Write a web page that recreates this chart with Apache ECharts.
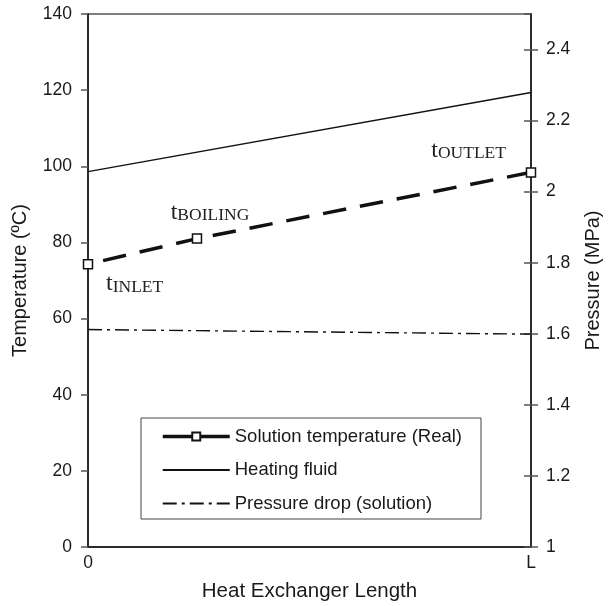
<!DOCTYPE html>
<html>
<head>
<meta charset="utf-8">
<script src="https://cdn.jsdelivr.net/npm/echarts@6/dist/echarts.min.js"></script>
<style>
  html, body { margin: 0; padding: 0; background: #fff; }
  #chart { width: 608px; height: 606px; }
</style>
</head>
<body>
<div id="chart"></div>
<script>
// Position along the exchanger, as a fraction of its length L
const solutionPos = [0, 0.246, 1];
const solutionTemp = [74.3, 81.0, 98.4];       // °C
const solutionTags = ['INLET', 'BOILING', 'OUTLET'];

const heatingPos = [0, 1];
const heatingTemp = [98.6, 119.4];             // °C

const pressurePos = [0, 1];
const pressureMPa = [1.612, 1.599];            // MPa

const xTickLabels = { 0: '0', 1: 'L' };

const seriesNames = ['Solution temperature (Real)', 'Heating fluid', 'Pressure drop (solution)'];

const pair = (xs, ys) => xs.map((x, i) => [x, ys[i]]);

const FONT = 'Liberation Sans, Arial, sans-serif';
const SERIF = 'Liberation Serif, Times New Roman, serif';
const AXIS_COLOR = '#2b2b2b';

// Label placement for the three marked solution points
const tagPlacement = [
  { align: 'left',   offset: [18, 19] },
  { align: 'center', offset: [13, -27] },
  { align: 'right',  offset: [-25, -23] }
];

const chart = echarts.init(document.getElementById('chart'));

chart.setOption({
  animation: false,
  backgroundColor: '#fff',
  textStyle: { fontFamily: FONT },
  grid: {
    left: 88, right: 77, top: 14, bottom: 59,
    outerBoundsMode: 'none',
    containLabel: false,
    show: true, borderColor: '#555', borderWidth: 1.5, backgroundColor: 'transparent'
  },
  legend: {
    orient: 'vertical',
    left: 141, top: 418,
    padding: [9, 19, 6, 20],
    itemGap: 14.5,
    itemWidth: 67,
    itemHeight: 10,
    borderColor: '#444',
    borderWidth: 1,
    textStyle: { fontFamily: FONT, fontSize: 18.5, color: '#1a1a1a' },
    data: [
      { name: seriesNames[0], lineStyle: { type: 'solid', width: 3.5 } },
      { name: seriesNames[1], itemStyle: { opacity: 0 } },
      { name: seriesNames[2], itemStyle: { opacity: 0 } }
    ]
  },
  xAxis: {
    type: 'value', min: 0, max: 1, interval: 1,
    name: 'Heat Exchanger Length', nameLocation: 'middle', nameGap: 34,
    nameTextStyle: { fontFamily: FONT, fontSize: 20.5, color: '#1a1a1a' },
    axisLine: { show: true, lineStyle: { color: AXIS_COLOR, width: 2 } },
    axisTick: { show: false },
    splitLine: { show: false },
    axisLabel: {
      fontFamily: FONT, fontSize: 17.5, color: '#1a1a1a', margin: 7,
      formatter: v => xTickLabels[v] ?? ''
    }
  },
  yAxis: [
    {
      type: 'value', min: 0, max: 140, interval: 20, position: 'left',
      name: 'Temperature (ºC)', nameLocation: 'middle', nameGap: 58,
      nameTextStyle: { fontFamily: FONT, fontSize: 20, color: '#1a1a1a' },
      axisLine: { show: true, lineStyle: { color: AXIS_COLOR, width: 2 } },
      axisTick: { show: true, inside: false, length: 7, lineStyle: { color: '#555', width: 1.5 } },
      splitLine: { show: false },
      axisLabel: { fontFamily: FONT, fontSize: 17.5, color: '#1a1a1a', margin: 16 }
    },
    {
      type: 'value', min: 1, max: 2.5, interval: 0.2, position: 'right',
      name: 'Pressure (MPa)', nameLocation: 'middle', nameGap: 52,
      nameTextStyle: { fontFamily: FONT, fontSize: 20, color: '#1a1a1a' },
      axisLine: { show: true, lineStyle: { color: AXIS_COLOR, width: 2 } },
      axisTick: { show: true, inside: false, length: 7, lineStyle: { color: '#555', width: 1.5 } },
      splitLine: { show: false },
      axisLabel: {
        fontFamily: FONT, fontSize: 17.5, color: '#1a1a1a', margin: 15,
        showMaxLabel: false,
        formatter: v => (v > 2.45 ? '' : String(Math.round(v * 10) / 10))
      }
    },
    {
      // inner half of the right-hand ticks, so they cross the axis line
      type: 'value', min: 1, max: 2.5, interval: 0.2, position: 'right',
      axisLine: { show: false },
      axisTick: { show: true, inside: true, length: 7, lineStyle: { color: '#555', width: 1.5 } },
      splitLine: { show: false },
      axisLabel: { show: false }
    }
  ],
  series: [
    {
      name: seriesNames[1],
      type: 'line',
      yAxisIndex: 0,
      data: pair(heatingPos, heatingTemp),
      showSymbol: false,
      symbol: 'none',
      lineStyle: { color: '#111', width: 1.5, type: 'solid' },
      itemStyle: { color: '#111' },
      z: 3
    },
    {
      name: seriesNames[2],
      type: 'line',
      yAxisIndex: 1,
      data: pair(pressurePos, pressureMPa),
      symbol: 'none',
      lineStyle: { color: '#111', width: 1.4, type: [14, 5, 3, 5] },
      itemStyle: { color: '#111' },
      z: 3
    },
    {
      name: seriesNames[0],
      type: 'line',
      yAxisIndex: 0,
      data: pair(solutionPos, solutionTemp).map((p, i) => ({
        value: p,
        label: {
          show: true,
          position: 'inside',
          align: tagPlacement[i].align,
          verticalAlign: 'middle',
          offset: tagPlacement[i].offset,
          formatter: '{t|t}{s|' + solutionTags[i] + '}',
          rich: {
            t: { fontFamily: SERIF, fontSize: 24, color: '#222', verticalAlign: 'bottom', lineHeight: 26 },
            s: { fontFamily: SERIF, fontSize: 17.5, color: '#222', verticalAlign: 'bottom', lineHeight: 26 }
          }
        }
      })),
      symbol: 'rect',
      symbolSize: 9,
      showAllSymbol: true,
      lineStyle: { color: '#111', width: 3.5, type: [23.5, 14], dashOffset: 22 },
      itemStyle: { color: '#fff', borderColor: '#111', borderWidth: 1.5 },
      clip: false,
      z: 4
    }
  ]
});
</script>
</body>
</html>
